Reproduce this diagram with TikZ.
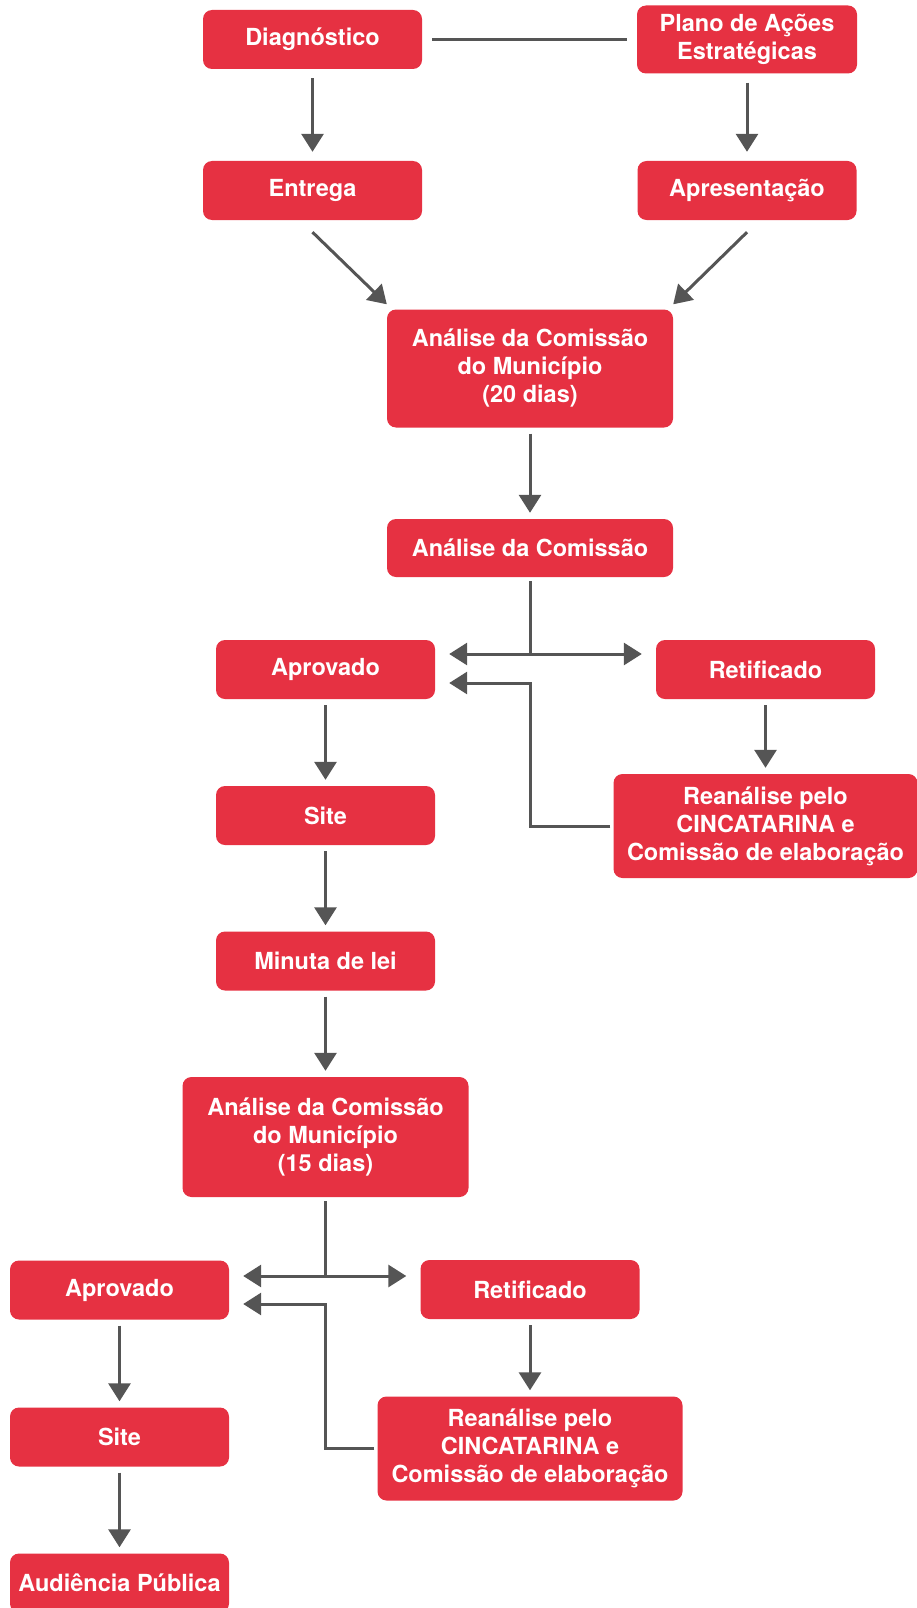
\documentclass[tikz,border=0pt]{standalone}
\usepackage{fontspec}
\setmainfont{TeX Gyre Heros}
\usetikzlibrary{arrows.meta}
\definecolor{boxred}{RGB}{230,49,66}
\definecolor{arrowgray}{RGB}{85,85,85}

\begin{document}
\begin{tikzpicture}[x=1pt, y=-1pt,
  box/.style={fill=boxred, rounded corners=9pt, text=white, align=center,
    font=\fontsize{23.5}{28}\selectfont\bfseries,
    minimum width=219pt, minimum height=59pt, inner sep=0pt},
  bigbox/.style={box, minimum width=286pt, minimum height=118pt},
  rebox/.style={box, minimum width=304pt, minimum height=104pt},
  link/.style={draw=arrowgray, line width=3pt, shorten <=6pt, shorten >=6pt},
  arr/.style={link, -{Triangle[length=18pt,width=22pt]}},
  twoway/.style={link, {Triangle[length=18pt,width=22pt]}-{Triangle[length=18pt,width=22pt]}}
]
\useasboundingbox (0,0) rectangle (917,1608);

% Draw the first stage boxes
\node[box] (diag) at (312.5,39.5) {Diagnóstico};
\node[box, minimum width=220pt, minimum height=68pt] (plano) at (747,39.5) {Plano de Ações\\Estratégicas};
\node[box] (entrega) at (312.5,190.5) {Entrega};
\node[box] (apres) at (747,190.5) {Apresentação};
\node[bigbox] (analiseA) at (530,368.5) {Análise da Comissão\\do Município\\(20 dias)};
\node[box, minimum width=286pt, minimum height=58pt] (comissao) at (530,548) {Análise da Comissão};

% Draw the first review
\node[box] (aprovA) at (325.5,669.5) {Aprovado};
\node[box] (retifA) at (765.5,669.5) {Retificado};
\node[rebox] (reanA) at (765.5,826) {Reanálise pelo\\CINCATARINA e\\Comissão de elaboração};
\node[box] (siteA) at (325.5,815.5) {Site};
\node[box] (minuta) at (325.5,961) {Minuta de lei};
\node[bigbox, minimum height=120pt] (analiseB) at (325.5,1137) {Análise da Comissão\\do Município\\(15 dias)};

% Draw the second review
\node[box] (aprovB) at (119.5,1290) {Aprovado};
\node[box] (retifB) at (530,1289.5) {Retificado};
\node[rebox, minimum width=305pt] (reanB) at (530,1448.5) {Reanálise pelo\\CINCATARINA e\\Comissão de elaboração};
\node[box] (siteB) at (119.5,1437) {Site};
\node[box] (audiencia) at (119.5,1583) {Audiência Pública};

% Draw the split points
\coordinate (splitA) at (530,654);
\coordinate (backA) at (530,683);
\coordinate (splitB) at (325.5,1276);
\coordinate (backB) at (325.5,1304);

% Draw the top connectors
\draw[link, shorten <=10pt, shorten >=10pt] (diag.east) -- (diag.east -| plano.west);
\draw[arr, shorten <=9pt, shorten >=9pt] (diag) -- (entrega);
\draw[arr, shorten <=9pt, shorten >=9pt] (plano) -- (apres);
\draw[arr, shorten <=0pt, shorten >=0pt] ([yshift=-12pt]entrega.south) -- ([yshift=5pt]analiseA.north west);
\draw[arr, shorten <=0pt, shorten >=0pt] ([yshift=-12pt]apres.south) -- ([yshift=5pt]analiseA.north east);
\draw[arr] (analiseA) -- (comissao);

% Draw the arrows of the first review
\draw[link, shorten <=4pt, shorten >=0pt] (comissao) -- (splitA);
\draw[twoway, shorten <=14pt, shorten >=14pt] (aprovA.east |- splitA) -- (retifA.west |- splitA);
\draw[arr, shorten <=3pt, shorten >=14pt] (reanA.west) -| (backA) -- (aprovA.east |- backA);
\draw[arr] (retifA) -- (reanA);
\draw[arr] (aprovA) -- (siteA);
\draw[arr] (siteA) -- (minuta);
\draw[arr] (minuta) -- (analiseB);

% Draw the arrows of the second review
\draw[link, shorten <=4pt, shorten >=0pt] (analiseB) -- (splitB);
\draw[twoway, shorten <=14pt, shorten >=14pt] (aprovB.east |- splitB) -- (retifB.west |- splitB);
\draw[arr, shorten <=3pt, shorten >=14pt] (reanB.west) -| (backB) -- (aprovB.east |- backB);
\draw[arr] (retifB) -- (reanB);
\draw[arr] (aprovB) -- (siteB);
\draw[arr] (siteB) -- (audiencia);
\end{tikzpicture}
\end{document}
